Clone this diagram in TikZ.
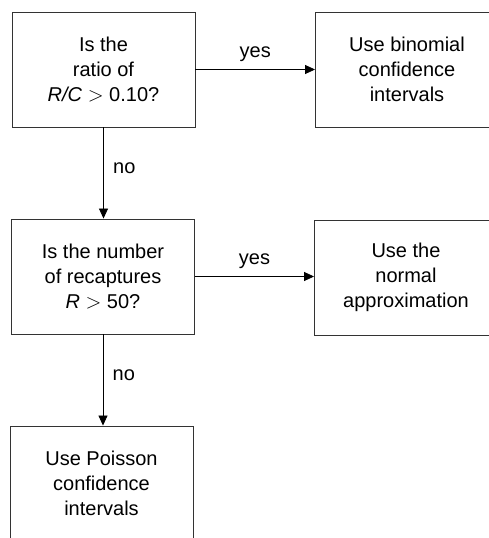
\documentclass[tikz,border=0pt]{standalone}
\usepackage{fontspec}
\setmainfont{Liberation Sans}
\usetikzlibrary{positioning,arrows.meta}

\begin{document}
\begin{tikzpicture}[x=1pt, y=-1pt,
  box/.style={rectangle, draw=black!80, line width=0.9pt, inner sep=0pt,
              minimum width=183pt, minimum height=115pt, align=center,
              font=\fontsize{20}{25}\selectfont},
  ar/.style={-{Triangle[length=10pt,width=9pt]}, line width=0.8pt},
  lb/.style={font=\fontsize{20}{24}\selectfont}
]
\clip (0,0) rectangle (489,538);

\node[box] (ratio) at (103.5, 69.5) {Is the\\ratio of\\\textit{R/C} $>$ 0.10?};
\node[box] (binom) at (407.0, 69.5) {Use binomial\\confidence\\intervals};
\node[box] (recap) at (103.0,276.5) {Is the number\\of recaptures\\\textit{R} $>$ 50?};
\node[box] (normal) at (406.0,277.5) {Use the\\normal\\approximation};
\node[box] (poisson) at (101.5,483.5) {Use Poisson\\confidence\\intervals};

\draw[ar] (ratio) -- node[lb, above=4pt] {yes} (binom);
\draw[ar] (recap) -- node[lb, above=4pt] {yes} (recap -| normal.west);
\draw[ar] (ratio.south) -- node[lb, right=6pt, pos=0.45] {no} (ratio.south |- recap.north);
\draw[ar] (recap.south) -- node[lb, right=6pt, pos=0.45] {no} (recap.south |- poisson.north);

\end{tikzpicture}
\end{document}
